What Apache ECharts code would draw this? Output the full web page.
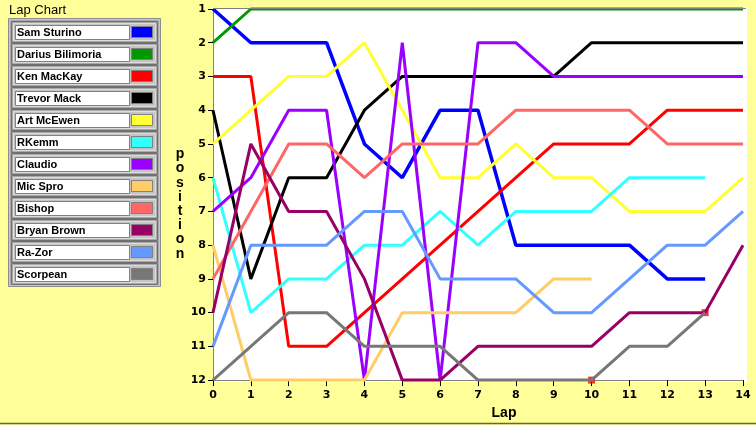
<!DOCTYPE html>
<html>
<head>
<meta charset="utf-8">
<script src="https://cdn.jsdelivr.net/npm/echarts@6/dist/echarts.min.js"></script>
<style>
html,body{margin:0;padding:0;background:#FFFF99;}
#chart{width:756px;height:425px;}
</style>
</head>
<body>
<div id="chart"></div>
<script>
// ---- data ----
var laps = [0,1,2,3,4,5,6,7,8,9,10,11,12,13,14];
var positionTicks = [1,2,3,4,5,6,7,8,9,10,11,12];
var driverNames = ['Sam Sturino','Darius Bilimoria','Ken MacKay','Trevor Mack','Art McEwen','RKemm','Claudio','Mic Spro','Bishop','Bryan Brown','Ra-Zor','Scorpean'];
var driverColors = ['#0000FF','#009900','#FF0000','#000000','#FFFF33','#33FFFF','#9900FF','#FFCC66','#FF6666','#990066','#6699FF','#777777'];
var samSturino      = [1,2,2,2,5,6,4,4,8,8,8,8,9,9];
var dariusBilimoria = [2,1,1,1,1,1,1,1,1,1,1,1,1,1,1];
var kenMacKay       = [3,3,11,11,10,9,8,7,6,5,5,5,4,4,4];
var trevorMack      = [4,9,6,6,4,3,3,3,3,3,2,2,2,2,2];
var artMcEwen       = [5,4,3,3,2,4,6,6,5,6,6,7,7,7,6];
var rKemm           = [6,10,9,9,8,8,7,8,7,7,7,6,6,6];
var claudio         = [7,6,4,4,12,2,12,2,2,3,3,3,3,3,3];
var micSpro         = [8,12,12,12,12,10,10,10,10,9,9];
var bishop          = [9,7,5,5,6,5,5,5,4,4,4,4,5,5,5];
var bryanBrown      = [10,5,7,7,9,12,12,11,11,11,11,10,10,10,8];
var raZor           = [11,8,8,8,7,7,9,9,9,10,10,9,8,8,7];
var scorpean        = [12,11,10,10,11,11,11,12,12,12,12,11,11,10];
var markerLaps      = [10,13];
var markerPositions = [12,10];
var xAxisTitle = 'Lap';
var yAxisTitle = 'position';
var panelTitle = 'Lap Chart';

var allPositions = [samSturino,dariusBilimoria,kenMacKay,trevorMack,artMcEwen,rKemm,claudio,micSpro,bishop,bryanBrown,raZor,scorpean];

var chart = echarts.init(document.getElementById('chart'), null, {renderer:'canvas'});

var series = [];
series.push({
  type:'scatter', name:'markers', z:1, silent:true,
  symbol:'rect', symbolSize:7,
  itemStyle:{color:'#FF0000'},
  data: markerLaps.map(function(l,i){return [l, markerPositions[i]];})
});
allPositions.forEach(function(arr, idx){
  series.push({
    type:'line', name: driverNames[idx], z: 3,
    showSymbol:false, symbol:'none', clip:false,
    lineStyle:{color: driverColors[idx], width: idx===0 ? 3.5 : 3},
    itemStyle:{color: driverColors[idx]},
    data: arr.map(function(v,i){return [laps[i], v];})
  });
});

// legend panel graphics built from names/colours
var graphics = [];
graphics.push({type:'rect', z:-20, silent:true, shape:{x:213,y:8,width:534,height:374}, style:{fill:'#FFFFFF'}});
graphics.push({type:'line', z:10, silent:true, shape:{x1:213,y1:8.5,x2:746,y2:8.5}, style:{stroke:'#808080',lineWidth:1}});
graphics.push({type:'line', z:10, silent:true, shape:{x1:0,y1:423.5,x2:756,y2:423.5}, style:{stroke:'#666644',lineWidth:1.5}});
graphics.push({type:'text', silent:true, style:{x:9,y:10,text:panelTitle,fill:'#000',font:'13px "Liberation Sans", Arial, sans-serif',verticalAlign:'middle'}});
graphics.push({type:'text', silent:true, style:{x:180,y:204,text:yAxisTitle.split('').join('\n'),fill:'#000',font:'bold 14px "Liberation Sans", Arial, sans-serif',align:'center',verticalAlign:'middle',lineHeight:14.2}});
graphics.push({type:'rect', silent:true, shape:{x:8.5,y:18.5,width:152,height:268}, style:{fill:'#C8C8C8',stroke:'#8C8C8C',lineWidth:1}});
graphics.push({type:'rect', silent:true, shape:{x:10.5,y:20.5,width:148,height:264}, style:{fill:'none',stroke:'#A8A8A8',lineWidth:1}});
driverNames.forEach(function(n, i){
  var y0 = 21 + 22*i;
  graphics.push({type:'rect', silent:true, shape:{x:11.5,y:y0+0.5,width:146,height:21}, style:{fill:'#A8A8A8',stroke:'#707070',lineWidth:1}});
  graphics.push({type:'rect', silent:true, shape:{x:13.5,y:y0+2.5,width:142,height:17}, style:{fill:'#C4C4C4',stroke:'#DCDCDC',lineWidth:1}});
  graphics.push({type:'rect', silent:true, shape:{x:15.5,y:y0+4.5,width:114,height:14}, style:{fill:'#FFFFFF',stroke:'#808080',lineWidth:1}});
  graphics.push({type:'rect', silent:true, shape:{x:131.5,y:y0+5.5,width:21,height:11}, style:{fill:driverColors[i],stroke:'#808080',lineWidth:1}});
  graphics.push({type:'text', silent:true, style:{x:17,y:y0+11.5,text:n,fill:'#000',font:'bold 11px "Liberation Sans", Arial, sans-serif',verticalAlign:'middle'}});
});

var labelFont = {color:'#000', fontWeight:'bold', fontSize:11, fontFamily:'"DejaVu Sans", sans-serif'};

chart.setOption({
  animation:false,
  backgroundColor:'#FFFF99',
  grid:{left:213, top:9, width:530, height:373, show:false},
  xAxis:{
    type:'value', min:0, max:14, interval:1,
    name:xAxisTitle, nameLocation:'middle', nameGap:25,
    nameTextStyle:{color:'#000', fontWeight:'bold', fontSize:14, fontFamily:'"Liberation Sans", Arial, sans-serif', padding:[0,0,0,52]},
    axisLine:{show:true, lineStyle:{color:'#808080', width:1}},
    axisTick:{show:true, length:6, lineStyle:{color:'#000', width:1}},
    axisLabel:Object.assign({margin:10}, labelFont),
    splitLine:{show:false}
  },
  yAxis:{
    type:'value', inverse:true, min:1, max:12, interval:1,
    axisLine:{show:true, lineStyle:{color:'#808080', width:1}},
    axisTick:{show:true, length:5, lineStyle:{color:'#000', width:1}},
    axisLabel:Object.assign({margin:7}, labelFont),
    splitLine:{show:false}
  },
  graphic: graphics,
  series: series
});
</script>
</body>
</html>
